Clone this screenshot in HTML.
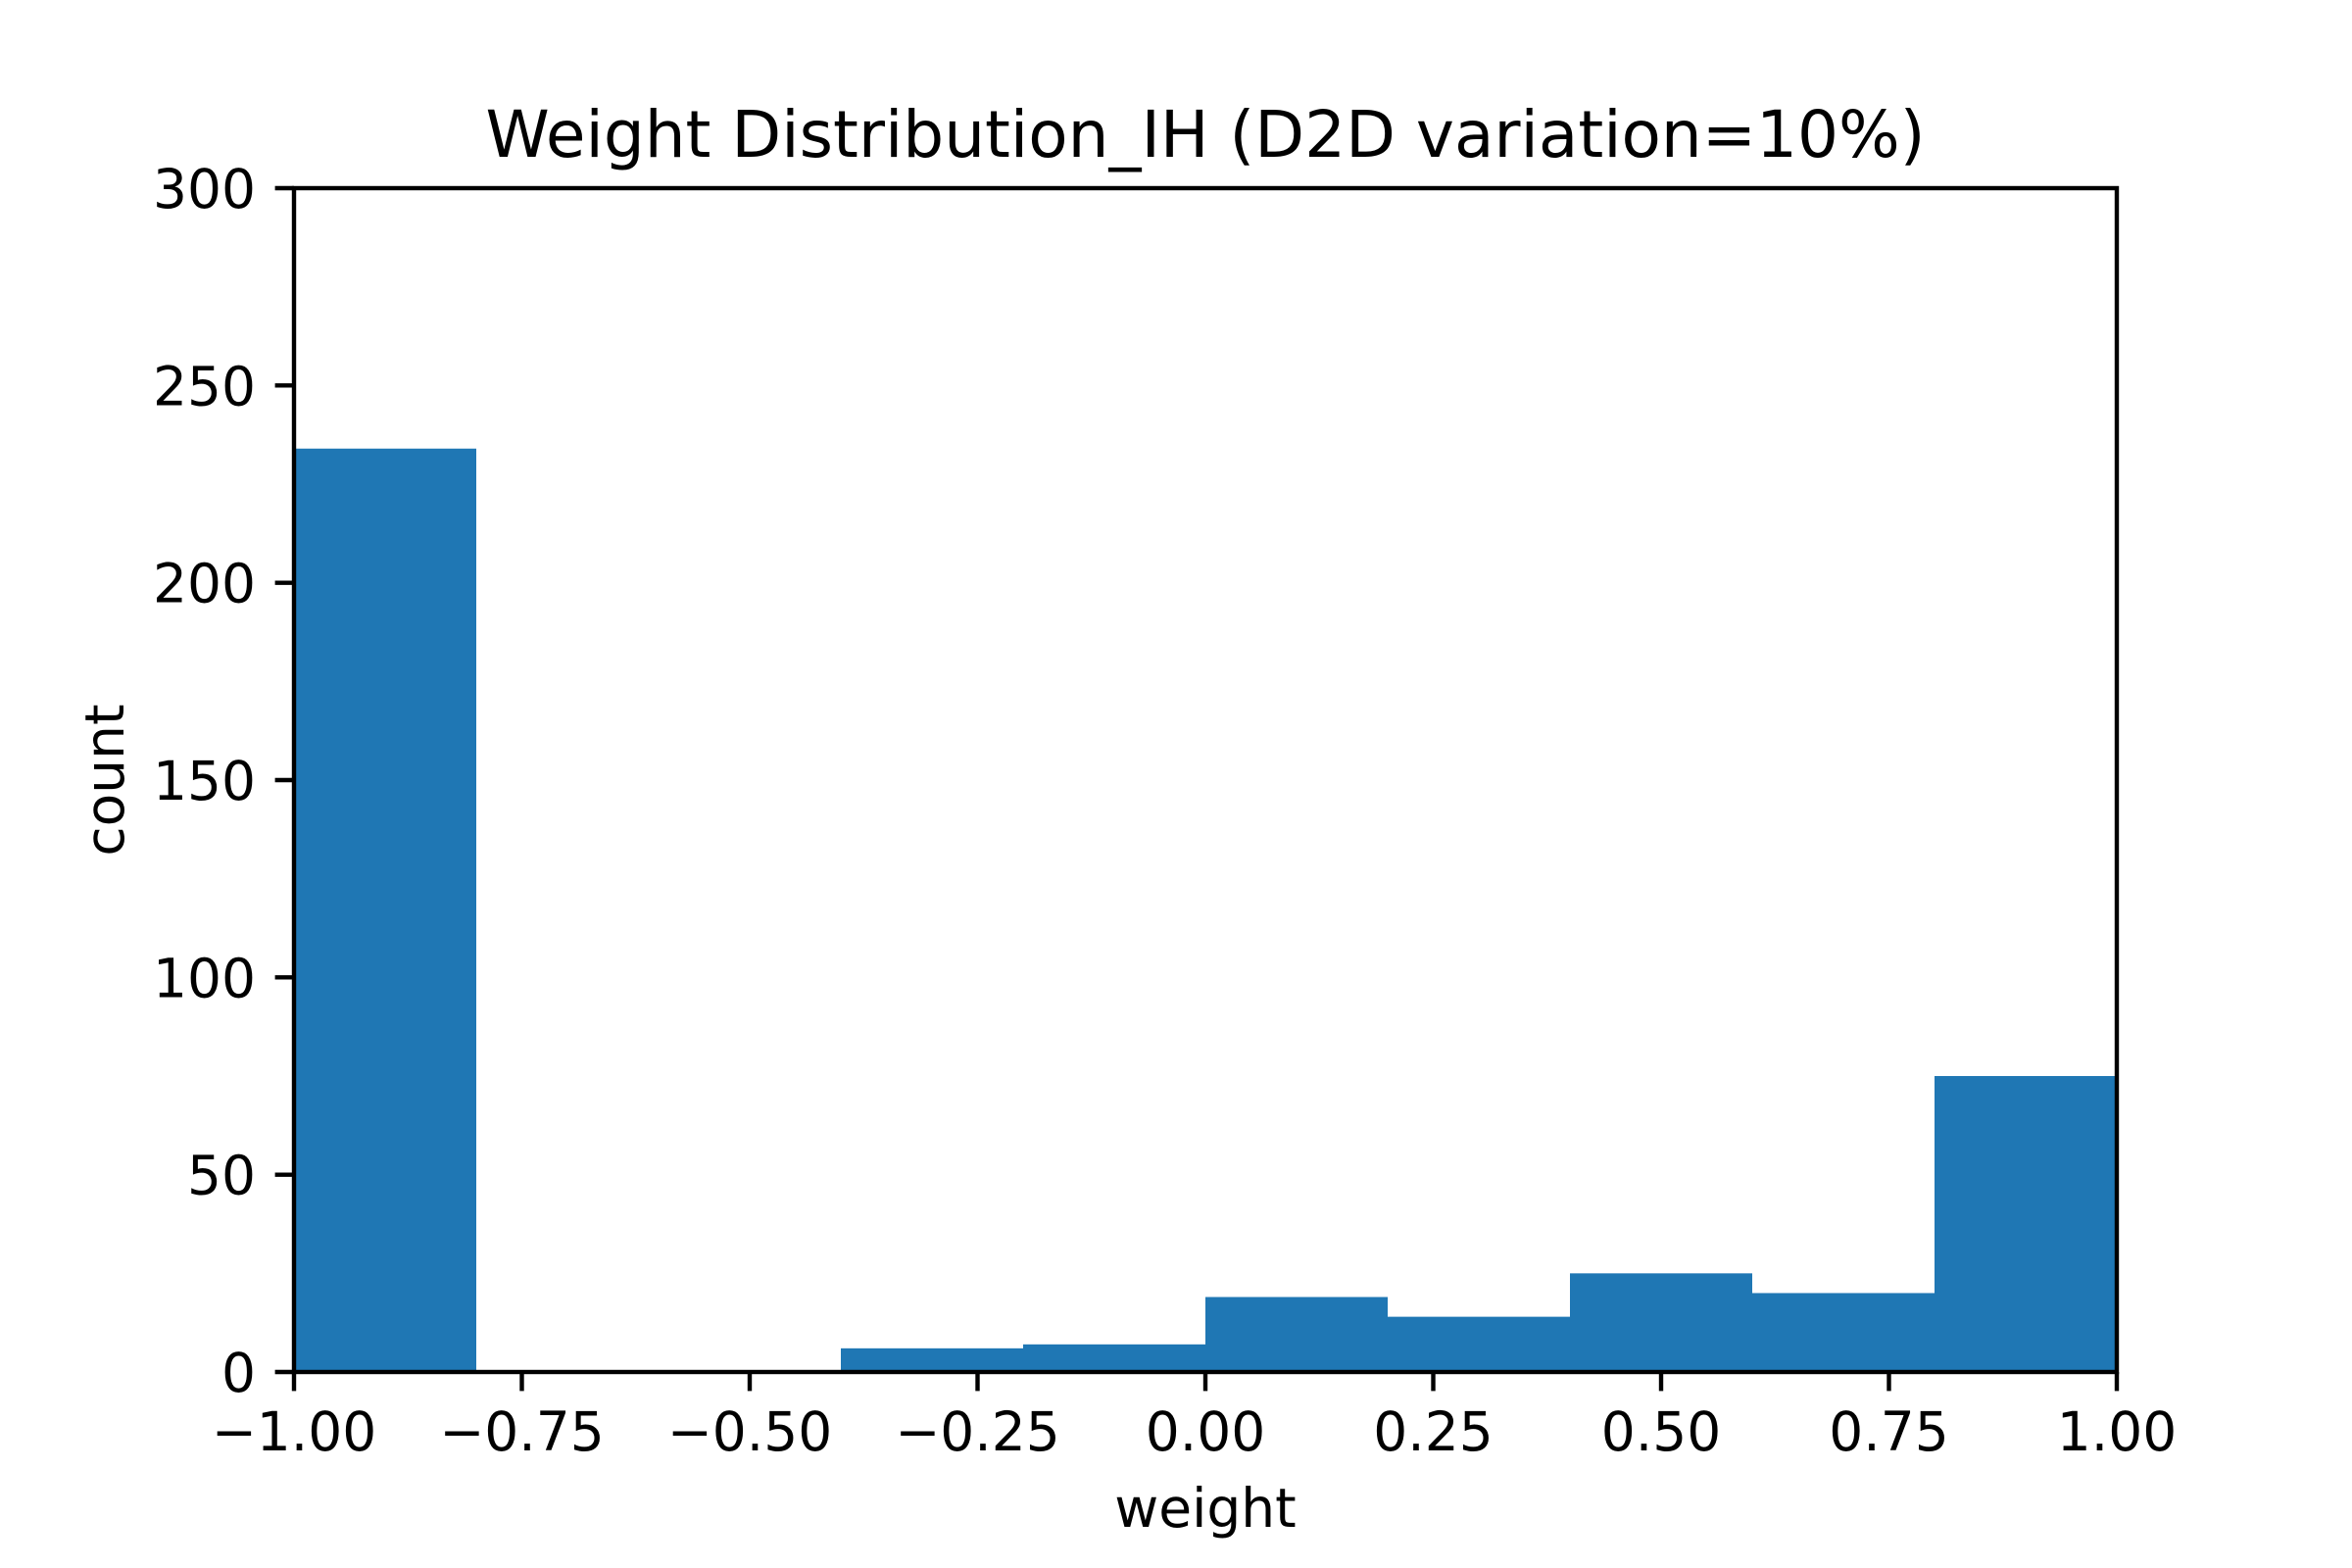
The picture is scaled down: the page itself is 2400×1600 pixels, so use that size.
<!DOCTYPE html>
<html><head><meta charset="utf-8"><style>
html,body{margin:0;padding:0;background:#fff;}
svg{display:block;font-family:"DejaVu Sans","Liberation Sans",sans-serif;}
</style></head><body>
<svg id="chart" width="2400" height="1600" viewBox="0 0 2400 1600" xmlns="http://www.w3.org/2000/svg">
<rect width="2400" height="1600" fill="#fff"/>
<g id="bars"></g>
<g id="axes"></g>
<text x="1230" y="160" font-size="66" text-anchor="middle">Weight Distribution_IH (D2D variation=10%)</text>
<text x="1230" y="1558" font-size="55" text-anchor="middle">weight</text>
<text x="0" y="0" font-size="55" text-anchor="middle" transform="translate(126,796) rotate(-90)">count</text>
</svg>
<script>
const binEdges = [-1.0, -0.8, -0.6, -0.4, -0.2, 0.0, 0.2, 0.4, 0.6, 0.8, 1.0];
const counts = [234, 0, 0, 6, 7, 19, 14, 25, 20, 75];
const xTicks = [-1.0, -0.75, -0.5, -0.25, 0.0, 0.25, 0.5, 0.75, 1.0];
const xTickLabels = ["−1.00","−0.75","−0.50","−0.25","0.00","0.25","0.50","0.75","1.00"];
const yTicks = [0, 50, 100, 150, 200, 250, 300];

const L=300,R=2160,T=192,B=1400;
const xScale=v=>L+(v+1)/2*(R-L);
const yScale=v=>B-v/300*(B-T);
const NS="http://www.w3.org/2000/svg";
const bars=document.getElementById('bars'), axes=document.getElementById('axes');
function mk(tag,attrs,parent){const e=document.createElementNS(NS,tag);for(const k in attrs)e.setAttribute(k,attrs[k]);parent.appendChild(e);return e;}
counts.forEach((c,i)=>{
  const x0=xScale(binEdges[i]),x1=xScale(binEdges[i+1]);
  const r=mk('rect',{x:x0,y:yScale(c),width:x1-x0,height:B-yScale(c),fill:'#1f77b4'},bars);
  
  
});
const fr=mk('rect',{x:L,y:T,width:R-L,height:B-T,fill:'none',stroke:'#000','stroke-width':4.4},axes);


xTicks.forEach((v,i)=>{
  const x=xScale(v);
  const t=mk('line',{x1:x,x2:x,y1:B,y2:B+19.4,stroke:'#000','stroke-width':4.4},axes);
  
  
  const tx=mk('text',{x:x,y:1480,'font-size':55,'text-anchor':'middle'},axes);
  tx.textContent=xTickLabels[i];
  
  
});
yTicks.forEach(v=>{
  const y=yScale(v);
  const t=mk('line',{x1:L-19.4,x2:L,y1:y,y2:y,stroke:'#000','stroke-width':4.4},axes);
  
  
  const tx=mk('text',{x:261,y:y+20,'font-size':55,'text-anchor':'end'},axes);
  tx.textContent=String(v);
  
  
});
</script>
</body></html>
